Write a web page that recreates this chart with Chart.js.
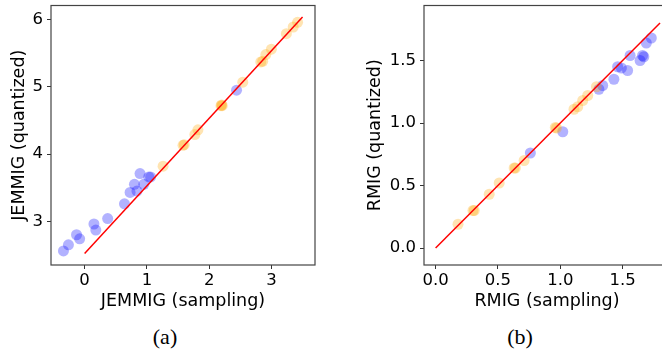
<!DOCTYPE html>
<html>
<head>
    <title>JEMMIG / RMIG quantized vs sampling</title>
    <script src="https://cdn.jsdelivr.net/npm/chart.js@4.4.0/dist/chart.umd.min.js"></script>
    <style>
        body { margin: 0; width: 662px; height: 352px; overflow: hidden; background: #fff; position: relative; }
        canvas { position: absolute; top: 0; }
        .cap { position: absolute; top: 324px; font-family: "Liberation Serif", serif; font-size: 22px; color: #000; transform: translateX(-50%); }
    </style>
</head>
<body>

<canvas id="chartA" width="331" height="312" style="left:0"></canvas>
<canvas id="chartB" width="349" height="312" style="left:331px"></canvas>
<div class="cap" style="left:165px">(a)</div>
<div class="cap" style="left:520px">(b)</div>

<script>
// (a) JEMMIG
const jemBlueX = [-0.34, -0.26, -0.13, -0.08, 0.15, 0.18, 0.37, 0.64, 0.73, 0.80, 0.84, 0.89, 0.95, 1.03, 1.06, 2.44];
const jemBlueY = [2.56, 2.65, 2.80, 2.74, 2.96, 2.87, 3.04, 3.26, 3.43, 3.55, 3.45, 3.71, 3.55, 3.66, 3.66, 4.95];
const jemOrangeX = [1.26, 1.58, 1.60, 1.77, 1.82, 2.19, 2.21, 2.20, 2.54, 2.83, 2.86, 2.91, 3.00, 3.24, 3.35, 3.42];
const jemOrangeY = [3.82, 4.13, 4.14, 4.29, 4.36, 4.72, 4.72, 4.73, 5.07, 5.37, 5.38, 5.48, 5.56, 5.79, 5.89, 5.96];
const jemLineX = [0, 3.5];
const jemLineY = [2.52, 6.04];
const jemXTicks = [0, 1, 2, 3];
const jemYTicks = [3, 4, 5, 6];

// (b) RMIG
const rmigBlueX = [0.76, 1.02, 1.31, 1.34, 1.43, 1.46, 1.49, 1.54, 1.56, 1.64, 1.66, 1.67, 1.69, 1.73];
const rmigBlueY = [0.76, 0.93, 1.27, 1.30, 1.35, 1.45, 1.44, 1.42, 1.54, 1.50, 1.54, 1.53, 1.64, 1.68];
const rmigOrangeX = [0.18, 0.30, 0.31, 0.43, 0.51, 0.63, 0.64, 0.71, 0.96, 0.97, 1.11, 1.14, 1.18, 1.22, 1.29];
const rmigOrangeY = [0.19, 0.30, 0.30, 0.43, 0.52, 0.64, 0.64, 0.70, 0.965, 0.96, 1.11, 1.13, 1.18, 1.22, 1.29];
const rmigLineX = [0, 1.8];
const rmigLineY = [0, 1.8];
const rmigXTicks = [0, 0.5, 1, 1.5];
const rmigYTicks = [0, 0.5, 1, 1.5];

const pts = (xs, ys) => xs.map((x, i) => ({x: x, y: ys[i]}));

// box around the plot area, like matplotlib spines
const frame = {
    id: 'frame',
    afterDraw(chart) {
        const a = chart.chartArea, ctx = chart.ctx;
        ctx.save();
        ctx.strokeStyle = '#444';
        ctx.lineWidth = 1.2;
        ctx.strokeRect(a.left, a.top, a.right - a.left, a.bottom - a.top);
        ctx.restore();
    }
};

function makeAxis(o) {
    return {
        type: 'linear',
        min: o.min,
        max: o.max,
        afterBuildTicks: s => { s.ticks = o.ticks.map(v => ({value: v})); },
        afterFit: s => {
            if (o.width) s.width = o.width;
            if (o.height) s.height = o.height;
            s.paddingTop = 0; s.paddingBottom = 0; s.paddingLeft = 0; s.paddingRight = 0;
        },
        grid: { drawOnChartArea: false, drawTicks: true, tickLength: 4, tickColor: '#333', tickWidth: 1 },
        border: { display: false },
        ticks: {
            padding: o.tickPad,
            color: '#000',
            font: { family: 'DejaVu Sans', size: 16.5 },
            callback: o.fmt
        },
        title: {
            display: true,
            text: o.title,
            color: '#000',
            font: { family: 'DejaVu Sans', size: 17.5 },
            padding: o.titlePad
        }
    };
}

function makeChart(id, blue, orange, line, xAxis, yAxis, padRight) {
    const ctx = document.getElementById(id).getContext('2d');
    return new Chart(ctx, {
        type: 'scatter',
        data: {
            datasets: [
                { type: 'line', data: line, borderColor: '#ff0000', borderWidth: 1.5, pointRadius: 0, fill: false, order: 0 },
                { data: orange, backgroundColor: 'rgba(255,165,0,0.3)', borderWidth: 0, pointRadius: 5.5, order: 1 },
                { data: blue, backgroundColor: 'rgba(0,0,255,0.3)', borderWidth: 0, pointRadius: 5.5, order: 2 }
            ]
        },
        options: {
            responsive: false,
            animation: false,
            devicePixelRatio: 1,
            layout: { padding: { top: 5, right: padRight, bottom: 0, left: 0 } },
            plugins: { legend: { display: false }, tooltip: { enabled: false } },
            scales: { x: xAxis, y: yAxis }
        },
        plugins: [frame]
    });
}

makeChart('chartA',
    pts(jemBlueX, jemBlueY), pts(jemOrangeX, jemOrangeY), pts(jemLineX, jemLineY),
    makeAxis({ min: -0.54, max: 3.70, ticks: jemXTicks, height: 47, tickPad: 2,
               title: 'JEMMIG (sampling)', titlePad: { top: 0, bottom: 0 }, fmt: v => String(v) }),
    makeAxis({ min: 2.35, max: 6.21, ticks: jemYTicks, width: 51, tickPad: 4,
               title: 'JEMMIG (quantized)', titlePad: { top: 8.5, bottom: 0 }, fmt: v => String(v) }),
    16);

makeChart('chartB',
    pts(rmigBlueX, rmigBlueY), pts(rmigOrangeX, rmigOrangeY), pts(rmigLineX, rmigLineY),
    makeAxis({ min: -0.093, max: 1.88, ticks: rmigXTicks, height: 47, tickPad: 2,
               title: 'RMIG (sampling)', titlePad: { top: 0, bottom: 0 }, fmt: v => v.toFixed(1) }),
    makeAxis({ min: -0.136, max: 1.94, ticks: rmigYTicks, width: 93, tickPad: 4,
               title: 'RMIG (quantized)', titlePad: { top: 33.5, bottom: 0 }, fmt: v => v.toFixed(1) }),
    10);
</script>

</body>
</html>
